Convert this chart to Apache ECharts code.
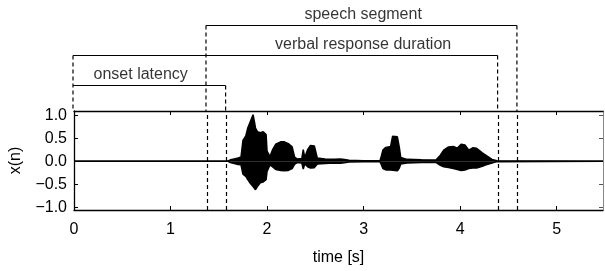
<!DOCTYPE html>
<html lang="en">
<head>
    <meta charset="utf-8">
    <title>speech segment</title>
    <script src="https://cdn.jsdelivr.net/npm/echarts@6/dist/echarts.min.js"></script>
    <style>
        html, body { margin: 0; padding: 0; background: #fff; }
    </style>
</head>
<body>
<div id="main" style="width:605px;height:271px;"></div>

<script type="text/javascript">
    var times = [0, 1.59, 1.62, 1.66, 1.70, 1.73, 1.745, 1.75, 1.78, 1.80, 1.83, 1.855, 1.87, 1.88, 1.90, 1.93, 1.96, 1.99,
        2.00, 2.03, 2.055, 2.09, 2.14, 2.18, 2.22, 2.26, 2.285, 2.31, 2.36, 2.375, 2.39, 2.42, 2.45, 2.49, 2.52,
        2.60, 2.70, 2.76, 2.80, 2.85, 3.00, 3.17, 3.185, 3.20, 3.23, 3.28, 3.30, 3.35, 3.37, 3.385, 3.45, 3.60,
        3.75, 3.795, 3.83, 3.88, 3.93, 3.97, 4.01, 4.05, 4.09, 4.13, 4.17, 4.23, 4.28, 4.33, 4.38, 5.48];
    var upper = [0, 0, 0.03, 0.05, 0.07, 0.09, 0.12, 0.45, 0.55, 0.72, 0.88, 1.01, 0.85, 0.72, 0.64, 0.62, 0.64, 0.58,
        0.22, 0.10, 0.24, 0.37, 0.42, 0.42, 0.38, 0.31, 0.09, 0.05, 0.06, 0.25, 0.08, 0.25, 0.34, 0.33, 0.07,
        0.05, 0.04, 0.045, 0.035, 0.02, 0.012, 0.012, 0.12, 0.24, 0.30, 0.32, 0.54, 0.53, 0.30, 0.08, 0.04, 0.03,
        0.025, 0.13, 0.24, 0.31, 0.32, 0.28, 0.37, 0.35, 0.24, 0.29, 0.28, 0.18, 0.11, 0.04, 0.01, 0];
    var lower = [0, 0, -0.03, -0.05, -0.07, -0.08, -0.10, -0.28, -0.33, -0.40, -0.49, -0.55, -0.58, -0.62, -0.55, -0.47, -0.45, -0.40,
        -0.22, -0.08, -0.12, -0.18, -0.20, -0.21, -0.20, -0.16, -0.07, -0.03, -0.04, -0.17, -0.06, -0.12, -0.15, -0.14, -0.06,
        -0.05, -0.04, -0.045, -0.035, -0.02, -0.012, -0.012, -0.08, -0.16, -0.19, -0.19, -0.20, -0.21, -0.15, -0.06, -0.04, -0.03,
        -0.025, -0.09, -0.12, -0.14, -0.16, -0.18, -0.20, -0.19, -0.16, -0.15, -0.15, -0.11, -0.07, -0.04, -0.01, 0];

    // segment boundaries [s] and the bracket row each dashed line hangs from
    var markTimes = [0, 1.375, 1.578, 4.39, 4.59];
    var markRows = [2, 1, 3, 2, 1];

    // brackets above the plot
    var bracketNames = ['speech segment', 'verbal response duration', 'onset latency'];
    var bracketStart = [1.375, 0, 0];
    var bracketEnd = [4.59, 4.39, 1.578];
    var bracketRows = [1, 2, 3];
    var bracketTextAt = [3.0, 3.0, 0.7];

    var xTicks = [0, 1, 2, 3, 4, 5];
    var yTicks = [-1, -0.5, 0, 0.5, 1];

    var FONT = 'Liberation Sans, Arial, Helvetica, sans-serif';
    var XMAX = 5.48;

    var upperData = times.map(function (t, i) { return [t, upper[i]]; });
    var lowerData = times.map(function (t, i) { return [t, lower[i]]; });

    var bracketData = [];
    var legData = [];
    var textData = [];
    bracketNames.forEach(function (name, i) {
        bracketData.push([bracketStart[i], bracketRows[i]], [bracketEnd[i], bracketRows[i]], '-');
        textData.push([bracketTextAt[i], bracketRows[i], name]);
    });
    markTimes.forEach(function (t, i) {
        legData.push([t, markRows[i]], [t, 3.85], '-');
    });

    var dashStyle = {color: '#000', width: 1.2, type: [4, 3]};

    var chart = echarts.init(document.getElementById('main'));
    chart.setOption({
        animation: false,
        textStyle: {fontFamily: FONT},
        grid: [
            {left: 73, right: 2, top: 111, bottom: 61},
            {left: 73, right: 2, top: 0, height: 111}
        ],
        xAxis: [{
            type: 'value', gridIndex: 0, min: 0, max: XMAX, position: 'bottom',
            axisLine: {onZero: false, lineStyle: {color: '#000', width: 1.3}},
            axisTick: {inside: true, length: 4, customValues: xTicks, lineStyle: {color: '#000'}},
            axisLabel: {customValues: xTicks, fontSize: 16, color: '#000', margin: 12, fontFamily: FONT},
            splitLine: {show: false},
            name: 'time [s]', nameLocation: 'middle', nameGap: 40,
            nameTextStyle: {fontSize: 16, color: '#000', fontFamily: FONT}
        }, {
            type: 'value', gridIndex: 0, min: 0, max: XMAX, position: 'top',
            axisLine: {onZero: false, lineStyle: {color: '#000', width: 1.3}},
            axisTick: {inside: true, length: 4, customValues: xTicks, lineStyle: {color: '#000'}},
            axisLabel: {show: false},
            splitLine: {show: false}
        }, {
            type: 'value', gridIndex: 1, min: 0, max: XMAX, show: false
        }],
        yAxis: [{
            type: 'value', gridIndex: 0, min: -1.06, max: 1.09, position: 'left',
            axisLine: {show: true, onZero: false, lineStyle: {color: '#000', width: 1.3}},
            axisTick: {show: true, inside: true, length: 4, customValues: yTicks, lineStyle: {color: '#000'}},
            axisLabel: {
                customValues: yTicks, fontSize: 16, color: '#000', margin: 7, fontFamily: FONT,
                formatter: function (v) { return (v < 0 ? '\u2212' : '') + Math.abs(v).toFixed(1); }
            },
            splitLine: {show: false},
            name: 'x(n)', nameLocation: 'middle', nameGap: 50, nameRotate: 90,
            nameTextStyle: {fontSize: 16, color: '#000', fontFamily: FONT}
        }, {
            type: 'value', gridIndex: 0, min: -1.06, max: 1.09, position: 'right',
            axisLine: {show: true, onZero: false, lineStyle: {color: '#888', width: 1}},
            axisTick: {show: true, inside: true, length: 4, customValues: yTicks, lineStyle: {color: '#555'}},
            axisLabel: {show: false},
            splitLine: {show: false}
        }, {
            type: 'value', gridIndex: 1, min: 0.15, max: 3.85, inverse: true, show: false
        }],
        series: [{
            name: 'upper',
            type: 'line', xAxisIndex: 0, yAxisIndex: 0,
            data: upperData, showSymbol: false, symbol: 'none',
            lineStyle: {color: '#000', width: 1.5},
            areaStyle: {color: '#000', opacity: 1},
            markLine: {
                silent: true, symbol: 'none', label: {show: false},
                lineStyle: dashStyle,
                data: markTimes.filter(function (t) { return t > 0; }).map(function (t) { return {xAxis: t}; })
            },
            z: 3
        }, {
            name: 'lower',
            type: 'line', xAxisIndex: 0, yAxisIndex: 0,
            data: lowerData, showSymbol: false, symbol: 'none',
            lineStyle: {color: '#000', width: 1.5},
            areaStyle: {color: '#000', opacity: 1},
            z: 3
        }, {
            name: 'brackets',
            type: 'line', xAxisIndex: 2, yAxisIndex: 2,
            data: bracketData, showSymbol: false, symbol: 'none', connectNulls: false,
            lineStyle: {color: '#000', width: 1.2}
        }, {
            name: 'legs',
            type: 'line', xAxisIndex: 2, yAxisIndex: 2,
            data: legData, showSymbol: false, symbol: 'none', connectNulls: false,
            lineStyle: dashStyle
        }, {
            name: 'texts',
            type: 'scatter', xAxisIndex: 2, yAxisIndex: 2,
            data: textData, symbolSize: 0,
            label: {
                show: true, position: 'inside', offset: [0, -11],
                fontSize: 16, color: '#000', fontFamily: FONT,
                formatter: function (p) { return p.data[2]; }
            }
        }]
    });
</script>
</body>
</html>
